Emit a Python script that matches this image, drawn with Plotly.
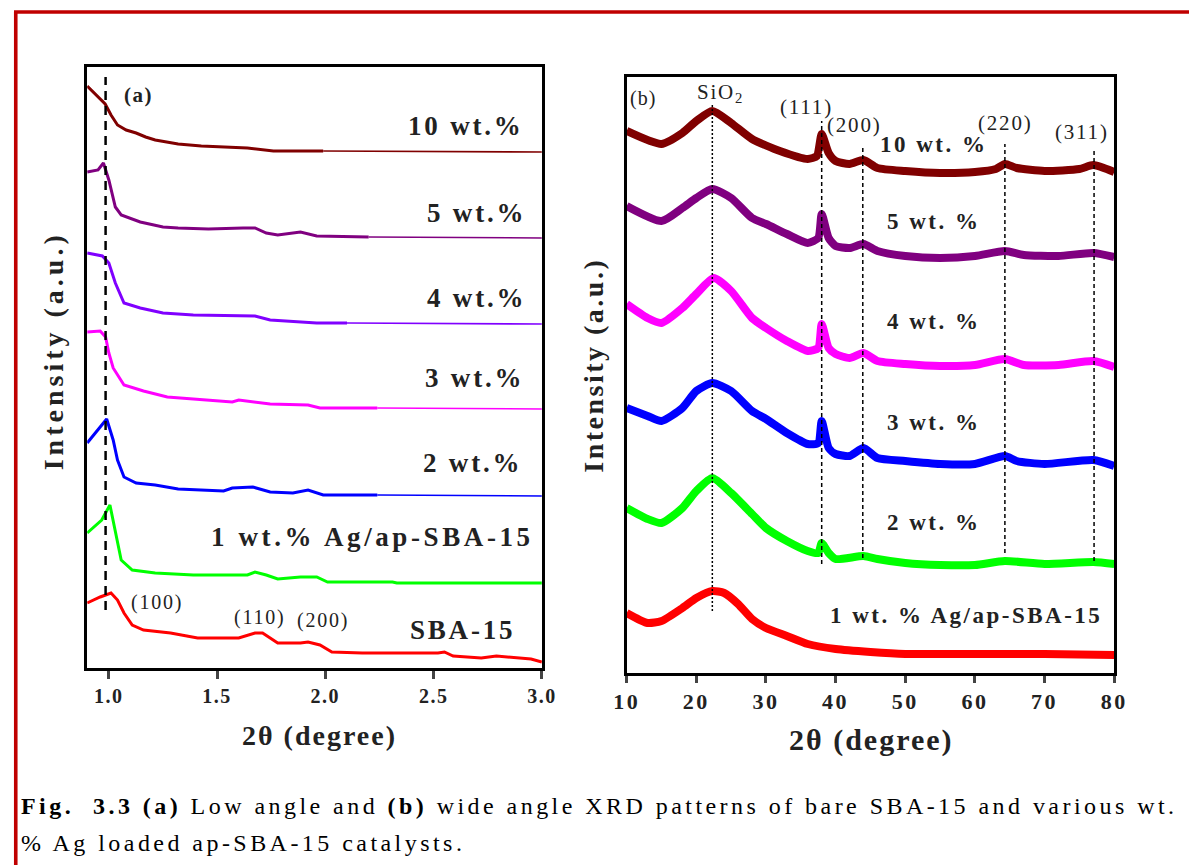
import plotly.graph_objects as go

W, H = 1204, 865
FONT = "Liberation Serif"

# ---------------- (a) low-angle data (x: 2θ, y: intensity a.u., offset stacked) -------------
la_names = ["10 wt.%", "5 wt.%", "4 wt.%", "3 wt.%", "2 wt.%", "1 wt.% Ag/ap-SBA-15", "SBA-15"]
la_colors = ["#800000", "#800080", "#8000FF", "#FF00FF", "#0000FF", "#00FF00", "#FF0000"]
la_x = [
    [0.9, 0.94, 0.983, 1.01, 1.04, 1.08, 1.126, 1.17, 1.214, 1.32, 1.427, 1.64, 1.76, 1.99],
    [0.9, 0.95, 0.975, 1.0, 1.03, 1.057, 1.145, 1.25, 1.32, 1.46, 1.62, 1.675, 1.727, 1.78, 1.885, 1.96, 2.2],
    [0.9, 0.97, 1.0, 1.03, 1.07, 1.145, 1.25, 1.39, 1.675, 1.745, 1.96, 2.1],
    [0.9, 0.96, 0.985, 1.0, 1.02, 1.07, 1.16, 1.27, 1.39, 1.57, 1.6, 1.675, 1.745, 1.92, 1.975, 2.24],
    [0.9, 0.95, 0.99, 1.02, 1.04, 1.07, 1.126, 1.214, 1.32, 1.53, 1.57, 1.665, 1.745, 1.85, 1.92, 1.99, 2.24],
    [0.9, 0.967, 1.005, 1.03, 1.057, 1.108, 1.214, 1.39, 1.64, 1.675, 1.727, 1.78, 1.885, 1.96, 2.01, 2.31, 2.33, 3.0],
    [0.9, 0.96, 1.01, 1.04, 1.07, 1.108, 1.16, 1.285, 1.41, 1.6, 1.675, 1.71, 1.78, 1.885, 1.92, 1.975,
     2.03, 2.17, 2.52, 2.55, 2.59, 2.72, 2.79, 2.88, 2.95, 3.0],
]
la_y = [
    [582, 573, 564, 553, 543, 538, 535, 531, 528, 524, 522, 520, 517, 517],
    [496, 498, 505, 488, 461, 453, 446, 441, 440, 439, 440, 440, 435, 433, 436, 432, 431],
    [415, 412, 405, 385, 365, 360, 355, 353, 352, 348, 345, 345],
    [336, 337, 331, 315, 300, 283, 277, 271, 269, 266, 268, 266, 264, 263, 260, 260],
    [225, 238, 249, 228, 208, 191, 185, 183, 179, 177, 180, 181, 176, 175, 178, 173, 173],
    [135, 148, 163, 135, 108, 98, 95, 93, 93, 96, 93, 89, 91, 91, 86, 86, 85, 85],
    [65, 71, 75, 68, 55, 43, 38, 35, 30, 30, 35, 35, 25, 25, 26, 23, 16, 15, 15, 16, 12, 10, 12, 10, 9, 6],
]
# flat tail level reaching 2θ = 3.0 (thin line), None if the curve already ends at 3.0
la_tail = [516, 430, 344, 259, 172, None, None]
la_ref_x = 0.985
la_ref_y = [58, 591]
la_ticks = [1.0, 1.5, 2.0, 2.5, 3.0]
la_peak_labels = ["(100)", "(110)", "(200)"]

# ---------------- (b) wide-angle data ----------------
wa_names = ["10 wt. %", "5 wt. %", "4 wt. %", "3 wt. %", "2 wt. %", "1 wt. % Ag/ap-SBA-15"]
wa_colors = ["#800000", "#800080", "#FF00FF", "#0000FF", "#00FF00", "#FF0000"]
wa_x = [
    [10, 15, 18, 20, 22.3, 25, 28, 32, 36, 37.3, 38, 39, 40, 42, 44, 46, 50, 55, 60, 63, 64.3, 66, 70, 75, 77, 80],
    [10, 15, 18, 20, 22.3, 25, 28, 30, 33, 36, 37.5, 38, 39, 40, 42, 44, 46, 50, 55, 60, 64.3, 67, 72, 77, 80],
    [10, 13, 15, 18, 20, 22.5, 25, 28, 30, 33, 36, 37.5, 38, 39, 40, 42, 44, 46, 50, 55, 60, 64.3, 67, 72, 77, 80],
    [10, 13, 15, 18, 20, 22.3, 25, 28, 30, 33, 36, 37.5, 38, 39, 40, 42, 44, 46, 50, 55, 60, 64.3, 66, 70, 77, 80],
    [10, 13, 15, 18, 20, 22.3, 25, 28, 30, 33, 36, 37.5, 38, 39, 40, 44, 46, 50, 55, 60, 64.3, 70, 77, 80],
    [10, 13, 15, 18, 20, 22.3, 24, 26, 28, 30, 33, 36, 40, 45, 50, 55, 60, 70, 80],
]
wa_y = [
    [542, 529, 540, 552, 562, 550, 534, 522, 514, 517, 539, 520, 512, 509, 513, 505, 502, 500, 501, 504, 509, 505, 502, 504, 508, 501],
    [467, 452, 465, 475, 484, 475, 455, 449, 439, 430, 435, 459, 435, 427, 425, 429, 422, 417, 415, 417, 422, 418, 417, 420, 416],
    [369, 355, 350, 365, 379, 395, 382, 355, 345, 332, 322, 325, 349, 325, 319, 315, 320, 312, 309, 307, 308, 314, 308, 308, 312, 306],
    [265, 257, 252, 265, 282, 290, 282, 262, 254, 240, 229, 230, 252, 225, 219, 217, 225, 215, 212, 209, 209, 217, 212, 209, 213, 207],
    [165, 154, 150, 165, 182, 195, 180, 159, 145, 132, 122, 120, 130, 120, 114, 117, 114, 110, 108, 108, 112, 109, 111, 109],
    [60, 50, 52, 65, 75, 82, 80, 69, 54, 45, 37, 29, 24, 21, 19, 19, 19, 19, 18],
]
wa_ref_x = [22.3, 38.0, 43.9, 64.3, 77.1]
wa_ref_lo = [62, 109, 115, 120, 112]
wa_ref_hi = [570, 552, 525, 529, 524]
wa_ref_labels = ["SiO<sub>2</sub>", "(111)", "(200)", "(220)", "(311)"]
wa_ticks = [10, 20, 30, 40, 50, 60, 70, 80]

fig = go.Figure()

# the photographed page comes out slightly compressed horizontally; place items so they land
# where the reference has them (screen x = 11.6 + 0.9787 * page x)
def X(xs):
    return (xs - 11.6) / 0.9787


def P(x, y):
    return X(x) / W, 1 - y / H


def S(text, ls, bold=False):
    t = f'<span style="letter-spacing:{ls}px">{text}</span>'
    return f"<b>{t}</b>" if bold else t


# (a) traces
for i in range(len(la_names)):
    fig.add_trace(go.Scatter(x=la_x[i], y=la_y[i], mode="lines", xaxis="x", yaxis="y",
                             line=dict(color=la_colors[i], width=3), showlegend=False))
    if la_tail[i] is not None:
        fig.add_trace(go.Scatter(x=[la_x[i][-1], 3.0], y=[la_y[i][-1], la_tail[i]], mode="lines",
                                 xaxis="x", yaxis="y", line=dict(color=la_colors[i], width=1.6),
                                 showlegend=False))
fig.add_trace(go.Scatter(x=[la_ref_x, la_ref_x], y=la_ref_y, mode="lines", xaxis="x", yaxis="y",
                         line=dict(color="black", width=2.5, dash="9px,6px"), showlegend=False))

# (b) traces
for i in range(len(wa_names)):
    fig.add_trace(go.Scatter(x=wa_x[i], y=wa_y[i], mode="lines", xaxis="x2", yaxis="y2",
                             line=dict(color=wa_colors[i], width=8, shape="spline", smoothing=0.6),
                             showlegend=False))
for j in range(len(wa_ref_x)):
    fig.add_trace(go.Scatter(x=[wa_ref_x[j], wa_ref_x[j]], y=[wa_ref_lo[j], wa_ref_hi[j]], mode="lines",
                             xaxis="x2", yaxis="y2",
                             line=dict(color="black", width=1.5, dash=("2px,2px" if j == 0 else "4px,3px")),
                             showlegend=False))

axcommon = dict(showline=True, linecolor="black", mirror=True, showgrid=False, zeroline=False)
fig.update_layout(
    width=W, height=H, margin=dict(l=0, r=0, t=0, b=0),
    paper_bgcolor="white", plot_bgcolor="white",
    xaxis=dict(domain=[X(85) / W, X(541) / W], range=[0.9, 3.0], tickvals=la_ticks,
               ticktext=[S(f"{v:.1f}", 1.5, True) for v in la_ticks], ticks="outside", ticklen=8,
               tickwidth=3, linewidth=3, tickfont=dict(family=FONT, size=20, color="#222"),
               anchor="y", **axcommon),
    yaxis=dict(domain=[1 - 668 / H, 1 - 67 / H], range=[0, 601], showticklabels=False, ticks="",
               linewidth=3, anchor="x", **axcommon),
    xaxis2=dict(domain=[X(626) / W, X(1115) / W], range=[10, 80], tickvals=wa_ticks,
                ticktext=[S(str(v), 2.5, True) for v in wa_ticks],
                ticks="outside", ticklen=7, tickwidth=2.5, linewidth=2.5,
                tickfont=dict(family=FONT, size=22, color="#222"), anchor="y2", **axcommon),
    yaxis2=dict(domain=[1 - 673 / H, 1 - 77 / H], range=[0, 596], showticklabels=False, ticks="",
                linewidth=2.5, anchor="x2", **axcommon),
)

ann = []


def A(text, x, y, size, xanchor="center", angle=0, color="#222"):
    px, py = P(x, y)
    ann.append(dict(text=text, x=px, y=py, xref="paper", yref="paper",
                    xanchor=xanchor, yanchor="middle", showarrow=False, textangle=angle,
                    font=dict(family=FONT, size=size, color=color)))


# (a) labels
la_label_pos = [(525, 126), (527, 213), (527, 298), (525, 378), (523, 463), (535, 537), (516, 630)]
for name, (x, y) in zip(la_names, la_label_pos):
    ls = 3.6 if len(name) > 10 else 2.8
    A(S(name, ls, True), x, y, 27, xanchor="right")
A(S("(a)", 1.5, True), 136, 95, 21)
for t, (x, y) in zip(la_peak_labels, [(155, 602), (258, 617), (321, 620)]):
    A(S(t, 1.8), x, y, 20)
A(S("Intensity (a.u.)", 4, True), 52, 351, 28, angle=-90)
A(S("2θ (degree)", 2, True), 318, 735, 28)

# (b) labels
wa_label_pos = [(934, 145), (934, 222), (934, 322), (934, 422), (934, 522), (966, 615)]
for name, (x, y) in zip(wa_names, wa_label_pos):
    A(S(name, 2.5, True), x, y, 23)
A(S("(b)", 1), 642, 98, 20)
for t, (x, y) in zip(wa_ref_labels, [(720, 93), (806, 107), (854, 125), (1006, 123), (1083, 132)]):
    A(S(t, 1.8), x, y, 21)
A(S("Intensity (a.u.)", 2.5, True), 592, 365, 28, angle=-90)
A(S("2θ (degree)", 2, True), 872, 740, 30)

# caption
cap1 = S("<b>Fig.  3.3 (a)</b> Low angle and <b>(b)</b> wide angle XRD patterns of bare SBA-15 and various wt.", 3.45)
cap2 = S("% Ag loaded ap-SBA-15 catalysts.", 3.45)
A(cap1, 17, 806, 24, xanchor="left", color="black")
A(cap2, 17, 843, 24, xanchor="left", color="black")

fig.update_layout(annotations=ann)

# red frame
fig.add_shape(type="line", xref="paper", yref="paper", x0=1.8 / W, x1=1.8 / W, y0=0, y1=1 - 12 / H,
              line=dict(color="#C00000", width=3.6))
fig.add_shape(type="line", xref="paper", yref="paper", x0=0, x1=1, y0=1 - 12 / H, y1=1 - 12 / H,
              line=dict(color="#C00000", width=3.6))

fig.write_html("out.html")
